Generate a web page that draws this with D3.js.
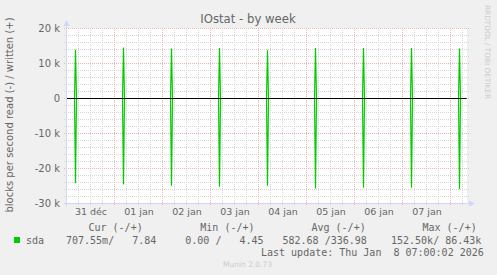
<!DOCTYPE html>
<html>
<head>
<meta charset="utf-8">
<script src="https://cdn.jsdelivr.net/npm/d3@7"></script>
<style>
  html, body { margin: 0; padding: 0; background: #f0f0f0; }
  svg { display: block; }
  text { font-family: "DejaVu Sans", sans-serif; fill: #666; }
  .mono { font-family: "DejaVu Sans Mono", monospace; font-size: 10px; white-space: pre; }
</style>
</head>
<body>
<svg id="chart" width="497" height="275"></svg>
<script>
// daily spikes (read is drawn below zero, written above)
const spikeTimes = ["2025-12-31T04:30", "2026-01-01T04:30", "2026-01-02T04:30", "2026-01-03T04:30",
                    "2026-01-04T04:30", "2026-01-05T04:30", "2026-01-06T04:30", "2026-01-07T04:30", "2026-01-08T04:30"];
const writtenPeaks = [13900, 14600, 14300, 14400, 13800, 14400, 14400, 14400, 14300];
const readPeaks = [24200, 24600, 24900, 25200, 24900, 25700, 25500, 25500, 25900];

const dayLabels = ["31 déc", "01 jan", "02 jan", "03 jan", "04 jan", "05 jan", "06 jan", "07 jan"];
const yTicks = [-30000, -20000, -10000, 0, 10000, 20000];
const yTickLabels = ["-30 k", "-20 k", "-10 k", "0", "10 k", "20 k"];

const legendHeaders = ["Cur (-/+)", "Min (-/+)", "Avg (-/+)", "Max (-/+)"];
const legendValues = ["707.55m/   7.84", "0.00 /   4.45", "582.68 /336.98", "152.50k/ 86.43k"];
const lastUpdate = "Last update: Thu Jan  8 07:00:02 2026";

const parse = d3.timeParse("%Y-%m-%dT%H:%M");
const tStart = parse("2025-12-31T00:00");
const tEnd = parse("2026-01-08T08:00");

const svg = d3.select("#chart");
const plotL = 66.5, plotR = 466.5, plotT = 28.5, plotB = 203.5;

const x = d3.scaleTime().domain([tStart, tEnd]).range([plotL, plotR]);
const y = d3.scaleLinear().domain([-30000, 20000]).range([plotB, plotT]);

// canvas
svg.append("rect").attr("x", 67).attr("y", 28).attr("width", 400).attr("height", 176).attr("fill", "#fff");

// grid
const grid = svg.append("g");
const minorY = d3.range(-30000, 20001, 2000).filter(v => v % 10000 !== 0);
grid.selectAll(".hmin").data(minorY).enter().append("line")
  .attr("x1", 64).attr("x2", 469).attr("y1", d => y(d)).attr("y2", d => y(d))
  .attr("stroke", "#d6d6d6").attr("stroke-dasharray", "1,1");
const hours6 = d3.timeHour.every(6).range(tStart, tEnd).filter(d => d.getHours() !== 0);
grid.selectAll(".vmin").data(hours6).enter().append("line")
  .attr("x1", d => x(d)).attr("x2", d => x(d)).attr("y1", 28).attr("y2", 206)
  .attr("stroke", "#d6d6d6").attr("stroke-dasharray", "1,1");
grid.selectAll(".hmaj").data(yTicks).enter().append("line")
  .attr("x1", 64).attr("x2", 469).attr("y1", d => y(d)).attr("y2", d => y(d))
  .attr("stroke", "#f0b0b0").attr("stroke-dasharray", "1,1");
const days = d3.timeDay.range(tStart, tEnd);
grid.selectAll(".vmaj").data(days).enter().append("line")
  .attr("x1", d => x(d)).attr("x2", d => x(d)).attr("y1", 28).attr("y2", 206)
  .attr("stroke", "#f0b0b0").attr("stroke-dasharray", "1,1");

// series
function seriesPoints(peaks, sign) {
  const pts = [[tStart, 0]];
  spikeTimes.forEach((s, i) => {
    const t = parse(s);
    pts.push([d3.timeMinute.offset(t, -30), 0]);
    pts.push([t, sign * peaks[i]]);
    pts.push([d3.timeMinute.offset(t, 30), 0]);
  });
  pts.push([tEnd, 0]);
  return pts;
}
const line = d3.line().x(d => x(d[0])).y(d => y(d[1]));
svg.append("path").datum(seriesPoints(readPeaks, -1))
  .attr("d", line).attr("fill", "none").attr("stroke", "#00cc00").attr("stroke-width", 1.2);
svg.append("path").datum(seriesPoints(writtenPeaks, 1))
  .attr("d", line).attr("fill", "none").attr("stroke", "#00cc00").attr("stroke-width", 1.2);

// zero line
svg.append("line").attr("x1", plotL).attr("x2", plotR).attr("y1", y(0)).attr("y2", y(0))
  .attr("stroke", "#000");

// axes lines + arrows
svg.append("line").attr("x1", 66.5).attr("x2", 66.5).attr("y1", 206).attr("y2", 25).attr("stroke", "#cfd6f8");
svg.append("path").attr("d", "M63.5,26 L69.5,26 L66.5,20 Z").attr("fill", "#cfd6f8");
svg.append("line").attr("x1", 64).attr("x2", 470).attr("y1", 203.5).attr("y2", 203.5).attr("stroke", "#cfd6f8");
svg.append("path").attr("d", "M469,200.5 L469,206.5 L475,203.5 Z").attr("fill", "#cfd6f8");

// y axis labels
const yAxis = svg.append("g").attr("transform", "translate(66.5,0)")
  .call(d3.axisLeft(y).tickValues(yTicks).tickFormat((d, i) => yTickLabels[i]).tickSize(0).tickPadding(6.5));
yAxis.select(".domain").remove();
yAxis.selectAll("text").attr("font-size", 10).attr("fill", "#666").attr("font-family", "DejaVu Sans");

// x axis labels (centred at noon)
const noons = days.map(d => d3.timeHour.offset(d, 12));
const xAxis = svg.append("g").attr("transform", "translate(0,203)")
  .call(d3.axisBottom(x).tickValues(noons).tickFormat((d, i) => dayLabels[i]).tickSize(0).tickPadding(5.3));
xAxis.select(".domain").remove();
xAxis.selectAll("text").attr("font-size", 9.5).attr("fill", "#666").attr("font-family", "DejaVu Sans");

// title
svg.append("text").attr("x", 248).attr("y", 23).attr("text-anchor", "middle")
  .attr("font-size", 11.7).text("IOstat - by week");

// vertical label
svg.append("text").attr("transform", "translate(12.5,115) rotate(-90)").attr("text-anchor", "middle")
  .attr("font-size", 10).text("blocks per second read (-) / written (+)");

// rrdtool watermark
svg.append("text").attr("transform", "translate(484.5,5) rotate(90)")
  .attr("font-size", 7.3).style("fill", "#cccccc").text("RRDTOOL / TOBI OETIKER");

// legend
const headX = [88.5, 200.3, 311.5, 422.5];
const valX = [66, 185.3, 282.5, 391];
svg.selectAll(".lh").data(legendHeaders).enter().append("text")
  .attr("class", "mono").attr("x", (d, i) => headX[i]).attr("y", 231).text(d => d);
svg.append("rect").attr("x", 14).attr("y", 237).attr("width", 6).attr("height", 6).attr("fill", "#00cc00");
svg.append("text").attr("class", "mono").attr("x", 26).attr("y", 243.5).text("sda");
svg.selectAll(".lv").data(legendValues).enter().append("text")
  .attr("class", "mono").attr("x", (d, i) => valX[i]).attr("y", 243.5).text(d => d);
svg.append("text").attr("class", "mono").attr("x", 261).attr("y", 255.5).text(lastUpdate);

svg.append("text").attr("x", 247.5).attr("y", 266.5).attr("text-anchor", "middle")
  .attr("font-size", 7.5).style("fill", "#cccccc").text("Munin 2.0.73");
</script>
</body>
</html>
